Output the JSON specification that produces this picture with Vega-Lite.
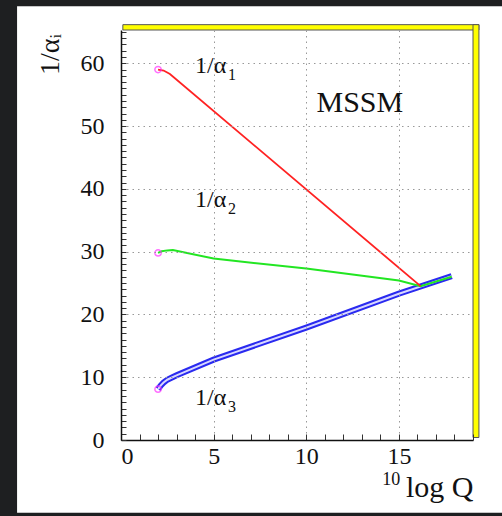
{
  "$schema": "https://vega.github.io/schema/vega-lite/v6.json",
  "width": 352,
  "height": 410,
  "autosize": {"type": "none"},
  "padding": {"left": 121, "top": 30, "right": 29, "bottom": 76},
  "background": "#1e1f21",
  "config": {
    "view": {"stroke": null},
    "font": "Liberation Serif"
  },
  "datasets": {
    "curves": [
      {"series": "a1", "x": 2, "y": 59.0},
      {"series": "a1", "x": 2.3, "y": 58.85},
      {"series": "a1", "x": 2.64, "y": 58.3},
      {"series": "a1", "x": 16.17, "y": 24.5},
      {"series": "a2", "x": 2, "y": 29.8},
      {"series": "a2", "x": 2.2, "y": 30.05},
      {"series": "a2", "x": 2.5, "y": 30.2},
      {"series": "a2", "x": 2.8, "y": 30.25},
      {"series": "a2", "x": 5, "y": 28.9},
      {"series": "a2", "x": 10, "y": 27.3},
      {"series": "a2", "x": 15, "y": 25.4},
      {"series": "a2", "x": 16.17, "y": 24.5},
      {"series": "a2", "x": 17.85, "y": 26.0},
      {"series": "a3", "x": 2, "y": 8.1},
      {"series": "a3", "x": 2.15, "y": 8.7},
      {"series": "a3", "x": 2.3, "y": 9.15},
      {"series": "a3", "x": 2.5, "y": 9.6},
      {"series": "a3", "x": 2.75, "y": 9.95},
      {"series": "a3", "x": 3, "y": 10.3},
      {"series": "a3", "x": 5, "y": 12.8},
      {"series": "a3", "x": 10, "y": 17.9},
      {"series": "a3", "x": 15, "y": 23.3},
      {"series": "a3", "x": 17.85, "y": 26.1}
    ],
    "labels": [
      {"x": 4.0, "y": 59.5, "t": "1/α", "s": "1"},
      {"x": 4.0, "y": 38.2, "t": "1/α", "s": "2"},
      {"x": 4.0, "y": 6.7, "t": "1/α", "s": "3"}
    ],
    "notes": [
      {"x": 10.55, "y": 53.6, "t": "MSSM"}
    ],
    "supers": [
      {"x": 14.1, "y": -6.3, "t": "10"}
    ],
    "one": [{}]
  },
  "layer": [
    {
      "data": {"name": "one"},
      "mark": {"type": "rect", "fill": "white", "clip": false},
      "encoding": {
        "x": {"datum": -5.61, "type": "quantitative", "title": "log Q",
          "scale": {"domain": [0, 19], "nice": false, "zero": false},
          "axis": {"zindex": 2, "values": [0,1,2,3,4,5,6,7,8,9,10,11,12,13,14,15,16,17,18,19], "labelExpr": "datum.value % 5 === 0 ? datum.label : ''", "labelFont": "Liberation Serif", "labelFontSize": 24, "labelColor": "#111111", "labelPadding": 10, "tickSize": -6, "tickColor": "#333333", "tickWidth": 1, "domainColor": "#111111", "domainWidth": 1.5, "grid": true, "gridColor": "#999999", "gridDash": [1.5, 4], "gridOpacity": {"condition": {"test": "datum.value % 5 !== 0 || datum.value === 0", "value": 0}, "value": 1}, "titleFont": "Liberation Serif", "titleFontSize": 30, "titleFontWeight": "normal", "titleColor": "#111111", "titleAnchor": "end", "titleAlign": "right", "titlePadding": 4}},
        "x2": {"datum": 21},
        "y": {"datum": -11.6, "type": "quantitative", "title": "1/αᵢ",
          "scale": {"domain": [0, 65.3], "nice": false, "zero": false},
          "axis": {"zindex": 2, "values": [0,1,2,3,4,5,6,7,8,9,10,11,12,13,14,15,16,17,18,19,20,21,22,23,24,25,26,27,28,29,30,31,32,33,34,35,36,37,38,39,40,41,42,43,44,45,46,47,48,49,50,51,52,53,54,55,56,57,58,59,60,61,62,63,64,65], "labelExpr": "datum.value % 10 === 0 ? datum.label : ''", "labelFont": "Liberation Serif", "labelFontSize": 24, "labelColor": "#111111", "labelPadding": 22, "tickSize": -5, "tickColor": "#333333", "tickWidth": 1, "domainColor": "#111111", "domainWidth": 1.5, "grid": true, "gridColor": "#999999", "gridDash": [1.5, 4], "gridOpacity": {"condition": {"test": "datum.value % 10 !== 0 || datum.value === 0", "value": 0}, "value": 1}, "titleFont": "Liberation Serif", "titleFontSize": 28, "titleFontWeight": "normal", "titleColor": "#111111", "titleAngle": 270, "titleAlign": "center", "titleBaseline": "middle", "titleX": -71, "titleY": 24}},
        "y2": {"datum": 69.1}
      }
    },
    {
      "data": {"name": "one"},
      "mark": {"type": "rect", "fill": "#ffff00", "stroke": "#555555", "strokeWidth": 1, "clip": false},
      "encoding": {
        "x": {"datum": 0.1, "type": "quantitative", "title": "log Q",
          "axis": {"zindex": 2, "values": [0,1,2,3,4,5,6,7,8,9,10,11,12,13,14,15,16,17,18,19], "labelExpr": "datum.value % 5 === 0 ? datum.label : ''", "labelFont": "Liberation Serif", "labelFontSize": 24, "labelColor": "#111111", "labelPadding": 10, "tickSize": -6, "tickColor": "#333333", "tickWidth": 1, "domainColor": "#111111", "domainWidth": 1.5, "grid": true, "gridColor": "#999999", "gridDash": [1.5, 4], "gridOpacity": {"condition": {"test": "datum.value % 5 !== 0 || datum.value === 0", "value": 0}, "value": 1}, "titleFont": "Liberation Serif", "titleFontSize": 30, "titleFontWeight": "normal", "titleColor": "#111111", "titleAnchor": "end", "titleAlign": "right", "titlePadding": 4}},
        "x2": {"datum": 19.32},
        "y": {"datum": 65.3, "type": "quantitative", "title": "1/αᵢ",
          "axis": {"zindex": 2, "values": [0,1,2,3,4,5,6,7,8,9,10,11,12,13,14,15,16,17,18,19,20,21,22,23,24,25,26,27,28,29,30,31,32,33,34,35,36,37,38,39,40,41,42,43,44,45,46,47,48,49,50,51,52,53,54,55,56,57,58,59,60,61,62,63,64,65], "labelExpr": "datum.value % 10 === 0 ? datum.label : ''", "labelFont": "Liberation Serif", "labelFontSize": 24, "labelColor": "#111111", "labelPadding": 22, "tickSize": -5, "tickColor": "#333333", "tickWidth": 1, "domainColor": "#111111", "domainWidth": 1.5, "grid": true, "gridColor": "#999999", "gridDash": [1.5, 4], "gridOpacity": {"condition": {"test": "datum.value % 10 !== 0 || datum.value === 0", "value": 0}, "value": 1}, "titleFont": "Liberation Serif", "titleFontSize": 28, "titleFontWeight": "normal", "titleColor": "#111111", "titleAngle": 270, "titleAlign": "center", "titleBaseline": "middle", "titleX": -71, "titleY": 24}},
        "y2": {"datum": 66.15}
      }
    },
    {
      "data": {"name": "one"},
      "mark": {"type": "rect", "fill": "#ffff00", "stroke": "#555555", "strokeWidth": 1, "clip": false},
      "encoding": {
        "x": {"datum": 19.0, "type": "quantitative", "title": "log Q",
          "axis": {"zindex": 2, "values": [0,1,2,3,4,5,6,7,8,9,10,11,12,13,14,15,16,17,18,19], "labelExpr": "datum.value % 5 === 0 ? datum.label : ''", "labelFont": "Liberation Serif", "labelFontSize": 24, "labelColor": "#111111", "labelPadding": 10, "tickSize": -6, "tickColor": "#333333", "tickWidth": 1, "domainColor": "#111111", "domainWidth": 1.5, "grid": true, "gridColor": "#999999", "gridDash": [1.5, 4], "gridOpacity": {"condition": {"test": "datum.value % 5 !== 0 || datum.value === 0", "value": 0}, "value": 1}, "titleFont": "Liberation Serif", "titleFontSize": 30, "titleFontWeight": "normal", "titleColor": "#111111", "titleAnchor": "end", "titleAlign": "right", "titlePadding": 4}},
        "x2": {"datum": 19.32},
        "y": {"datum": 0.4, "type": "quantitative", "title": "1/αᵢ",
          "axis": {"zindex": 2, "values": [0,1,2,3,4,5,6,7,8,9,10,11,12,13,14,15,16,17,18,19,20,21,22,23,24,25,26,27,28,29,30,31,32,33,34,35,36,37,38,39,40,41,42,43,44,45,46,47,48,49,50,51,52,53,54,55,56,57,58,59,60,61,62,63,64,65], "labelExpr": "datum.value % 10 === 0 ? datum.label : ''", "labelFont": "Liberation Serif", "labelFontSize": 24, "labelColor": "#111111", "labelPadding": 22, "tickSize": -5, "tickColor": "#333333", "tickWidth": 1, "domainColor": "#111111", "domainWidth": 1.5, "grid": true, "gridColor": "#999999", "gridDash": [1.5, 4], "gridOpacity": {"condition": {"test": "datum.value % 10 !== 0 || datum.value === 0", "value": 0}, "value": 1}, "titleFont": "Liberation Serif", "titleFontSize": 28, "titleFontWeight": "normal", "titleColor": "#111111", "titleAngle": 270, "titleAlign": "center", "titleBaseline": "middle", "titleX": -71, "titleY": 24}},
        "y2": {"datum": 66.15}
      }
    },
    {
      "data": {"name": "curves"},
      "layer": [
        {
          "transform": [{"filter": "datum.series === 'a3'"}],
          "mark": {"type": "line", "color": "#2a2af0", "strokeWidth": 6}
        },
        {
          "transform": [{"filter": "datum.series === 'a3'"}],
          "mark": {"type": "line", "color": "#d8d8ff", "strokeWidth": 2}
        },
        {
          "transform": [{"filter": "datum.series === 'a2'"}],
          "mark": {"type": "line", "color": "#22e622", "strokeWidth": 2}
        },
        {
          "transform": [{"filter": "datum.series === 'a1'"}],
          "mark": {"type": "line", "color": "#ff2222", "strokeWidth": 1.8}
        },
        {
          "transform": [{"filter": "datum.x === 2"}],
          "mark": {"type": "point", "shape": "circle", "filled": false, "color": "#ff33ff", "size": 40, "strokeWidth": 1.5}
        }
      ],
      "encoding": {
        "x": {"field": "x", "type": "quantitative", "title": "log Q",
          "axis": {"zindex": 2, "values": [0,1,2,3,4,5,6,7,8,9,10,11,12,13,14,15,16,17,18,19], "labelExpr": "datum.value % 5 === 0 ? datum.label : ''", "labelFont": "Liberation Serif", "labelFontSize": 24, "labelColor": "#111111", "labelPadding": 10, "tickSize": -6, "tickColor": "#333333", "tickWidth": 1, "domainColor": "#111111", "domainWidth": 1.5, "grid": true, "gridColor": "#999999", "gridDash": [1.5, 4], "gridOpacity": {"condition": {"test": "datum.value % 5 !== 0 || datum.value === 0", "value": 0}, "value": 1}, "titleFont": "Liberation Serif", "titleFontSize": 30, "titleFontWeight": "normal", "titleColor": "#111111", "titleAnchor": "end", "titleAlign": "right", "titlePadding": 4}},
        "y": {"field": "y", "type": "quantitative", "title": "1/αᵢ",
          "axis": {"zindex": 2, "values": [0,1,2,3,4,5,6,7,8,9,10,11,12,13,14,15,16,17,18,19,20,21,22,23,24,25,26,27,28,29,30,31,32,33,34,35,36,37,38,39,40,41,42,43,44,45,46,47,48,49,50,51,52,53,54,55,56,57,58,59,60,61,62,63,64,65], "labelExpr": "datum.value % 10 === 0 ? datum.label : ''", "labelFont": "Liberation Serif", "labelFontSize": 24, "labelColor": "#111111", "labelPadding": 22, "tickSize": -5, "tickColor": "#333333", "tickWidth": 1, "domainColor": "#111111", "domainWidth": 1.5, "grid": true, "gridColor": "#999999", "gridDash": [1.5, 4], "gridOpacity": {"condition": {"test": "datum.value % 10 !== 0 || datum.value === 0", "value": 0}, "value": 1}, "titleFont": "Liberation Serif", "titleFontSize": 28, "titleFontWeight": "normal", "titleColor": "#111111", "titleAngle": 270, "titleAlign": "center", "titleBaseline": "middle", "titleX": -71, "titleY": 24}}
      }
    },
    {
      "layer": [
        {
          "data": {"name": "labels"},
          "mark": {"type": "text", "align": "left", "baseline": "middle", "fontSize": 24, "color": "#111111", "font": "Liberation Serif"},
          "encoding": {"text": {"field": "t"}}
        },
        {
          "data": {"name": "labels"},
          "mark": {"type": "text", "align": "left", "baseline": "middle", "fontSize": 16, "dx": 33, "dy": 9, "color": "#111111", "font": "Liberation Serif"},
          "encoding": {"text": {"field": "s"}}
        },
        {
          "data": {"name": "notes"},
          "mark": {"type": "text", "align": "left", "baseline": "middle", "fontSize": 30, "color": "#111111", "font": "Liberation Serif"},
          "encoding": {"text": {"field": "t"}}
        },
        {
          "data": {"name": "supers"},
          "mark": {"type": "text", "align": "left", "baseline": "middle", "fontSize": 18, "color": "#111111", "font": "Liberation Serif", "clip": false},
          "encoding": {"text": {"field": "t"}}
        }
      ],
      "encoding": {
        "x": {"field": "x", "type": "quantitative", "title": "log Q",
          "axis": {"zindex": 2, "values": [0,1,2,3,4,5,6,7,8,9,10,11,12,13,14,15,16,17,18,19], "labelExpr": "datum.value % 5 === 0 ? datum.label : ''", "labelFont": "Liberation Serif", "labelFontSize": 24, "labelColor": "#111111", "labelPadding": 10, "tickSize": -6, "tickColor": "#333333", "tickWidth": 1, "domainColor": "#111111", "domainWidth": 1.5, "grid": true, "gridColor": "#999999", "gridDash": [1.5, 4], "gridOpacity": {"condition": {"test": "datum.value % 5 !== 0 || datum.value === 0", "value": 0}, "value": 1}, "titleFont": "Liberation Serif", "titleFontSize": 30, "titleFontWeight": "normal", "titleColor": "#111111", "titleAnchor": "end", "titleAlign": "right", "titlePadding": 4}},
        "y": {"field": "y", "type": "quantitative", "title": "1/αᵢ",
          "axis": {"zindex": 2, "values": [0,1,2,3,4,5,6,7,8,9,10,11,12,13,14,15,16,17,18,19,20,21,22,23,24,25,26,27,28,29,30,31,32,33,34,35,36,37,38,39,40,41,42,43,44,45,46,47,48,49,50,51,52,53,54,55,56,57,58,59,60,61,62,63,64,65], "labelExpr": "datum.value % 10 === 0 ? datum.label : ''", "labelFont": "Liberation Serif", "labelFontSize": 24, "labelColor": "#111111", "labelPadding": 22, "tickSize": -5, "tickColor": "#333333", "tickWidth": 1, "domainColor": "#111111", "domainWidth": 1.5, "grid": true, "gridColor": "#999999", "gridDash": [1.5, 4], "gridOpacity": {"condition": {"test": "datum.value % 10 !== 0 || datum.value === 0", "value": 0}, "value": 1}, "titleFont": "Liberation Serif", "titleFontSize": 28, "titleFontWeight": "normal", "titleColor": "#111111", "titleAngle": 270, "titleAlign": "center", "titleBaseline": "middle", "titleX": -71, "titleY": 24}}
      }
    }
  ]
}
